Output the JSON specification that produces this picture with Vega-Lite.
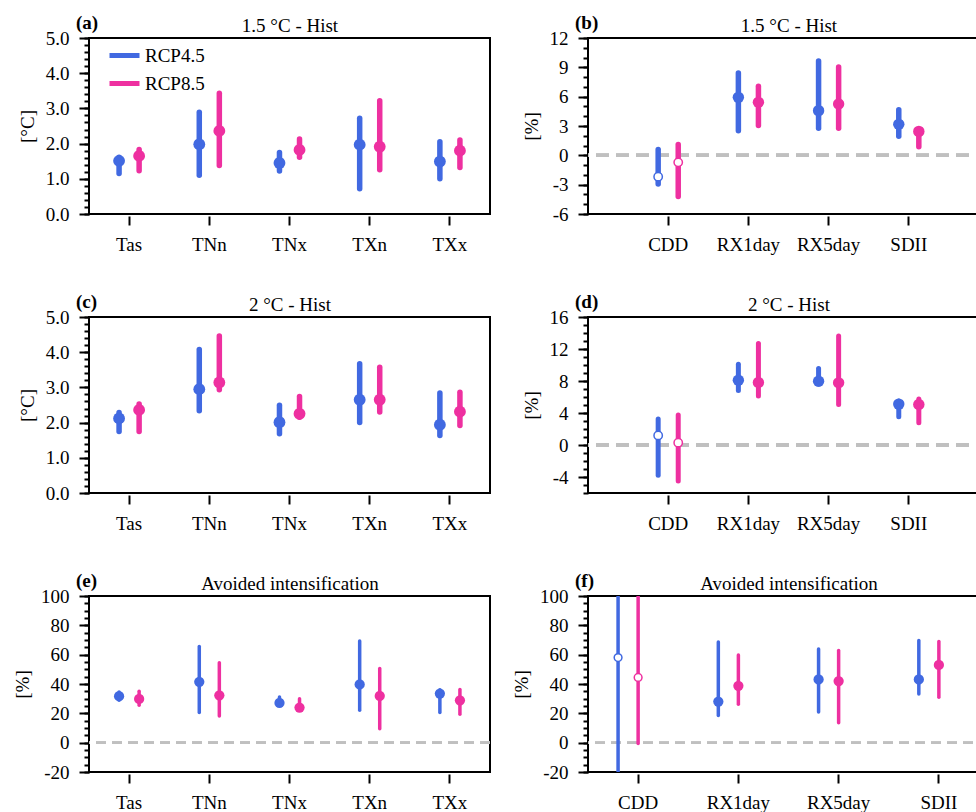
{
"$schema": "https://vega.github.io/schema/vega-lite/v6.json",
"padding": {"left": 12, "top": 13, "right": 0, "bottom": 0},
"config": {
 "font": "Liberation Serif",
 "view": {"stroke": "black", "strokeWidth": 2},
 "axis": {"labelFontSize": 19, "titleFontSize": 19, "titleFontWeight": "normal", "labelColor": "black", "titleColor": "black", "tickColor": "black", "tickWidth": 2, "grid": false, "domain": false, "labelFont": "Liberation Serif", "titleFont": "Liberation Serif"},
 "title": {"fontSize": 19, "font": "Liberation Serif", "color": "black"},
 "legend": {"labelFont": "Liberation Serif", "labelFontSize": 19}
},
"data": {"values": [
 {"p":"a","c":"Tas","s":"RCP4.5","lo":1.15,"hi":1.61,"m":1.51,"sig":true},
 {"p":"a","c":"Tas","s":"RCP8.5","lo":1.23,"hi":1.83,"m":1.65,"sig":true},
 {"p":"a","c":"TNn","s":"RCP4.5","lo":1.10,"hi":2.89,"m":1.98,"sig":true},
 {"p":"a","c":"TNn","s":"RCP8.5","lo":1.38,"hi":3.43,"m":2.36,"sig":true},
 {"p":"a","c":"TNx","s":"RCP4.5","lo":1.22,"hi":1.75,"m":1.45,"sig":true},
 {"p":"a","c":"TNx","s":"RCP8.5","lo":1.61,"hi":2.13,"m":1.82,"sig":true},
 {"p":"a","c":"TXn","s":"RCP4.5","lo":0.72,"hi":2.72,"m":1.97,"sig":true},
 {"p":"a","c":"TXn","s":"RCP8.5","lo":1.26,"hi":3.22,"m":1.91,"sig":true},
 {"p":"a","c":"TXx","s":"RCP4.5","lo":1.00,"hi":2.05,"m":1.49,"sig":true},
 {"p":"a","c":"TXx","s":"RCP8.5","lo":1.32,"hi":2.10,"m":1.80,"sig":true},
 {"p":"b","c":"CDD","s":"RCP4.5","lo":-2.93,"hi":0.6,"m":-2.18,"sig":false},
 {"p":"b","c":"CDD","s":"RCP8.5","lo":-4.2,"hi":1.1,"m":-0.72,"sig":false},
 {"p":"b","c":"RX1day","s":"RCP4.5","lo":2.52,"hi":8.42,"m":5.93,"sig":true},
 {"p":"b","c":"RX1day","s":"RCP8.5","lo":3.04,"hi":7.06,"m":5.42,"sig":true},
 {"p":"b","c":"RX5day","s":"RCP4.5","lo":2.76,"hi":9.65,"m":4.57,"sig":true},
 {"p":"b","c":"RX5day","s":"RCP8.5","lo":2.76,"hi":9.03,"m":5.25,"sig":true},
 {"p":"b","c":"SDII","s":"RCP4.5","lo":1.94,"hi":4.67,"m":3.17,"sig":true},
 {"p":"b","c":"SDII","s":"RCP8.5","lo":0.89,"hi":2.6,"m":2.45,"sig":true},
 {"p":"c","c":"Tas","s":"RCP4.5","lo":1.75,"hi":2.29,"m":2.12,"sig":true},
 {"p":"c","c":"Tas","s":"RCP8.5","lo":1.75,"hi":2.53,"m":2.36,"sig":true},
 {"p":"c","c":"TNn","s":"RCP4.5","lo":2.34,"hi":4.08,"m":2.95,"sig":true},
 {"p":"c","c":"TNn","s":"RCP8.5","lo":2.93,"hi":4.46,"m":3.14,"sig":true},
 {"p":"c","c":"TNx","s":"RCP4.5","lo":1.68,"hi":2.49,"m":2.01,"sig":true},
 {"p":"c","c":"TNx","s":"RCP8.5","lo":2.15,"hi":2.74,"m":2.25,"sig":true},
 {"p":"c","c":"TXn","s":"RCP4.5","lo":2.0,"hi":3.67,"m":2.65,"sig":true},
 {"p":"c","c":"TXn","s":"RCP8.5","lo":2.3,"hi":3.57,"m":2.65,"sig":true},
 {"p":"c","c":"TXx","s":"RCP4.5","lo":1.63,"hi":2.84,"m":1.94,"sig":true},
 {"p":"c","c":"TXx","s":"RCP8.5","lo":1.92,"hi":2.86,"m":2.31,"sig":true},
 {"p":"d","c":"CDD","s":"RCP4.5","lo":-3.78,"hi":3.24,"m":1.2,"sig":false},
 {"p":"d","c":"CDD","s":"RCP8.5","lo":-4.49,"hi":3.74,"m":0.29,"sig":false},
 {"p":"d","c":"RX1day","s":"RCP4.5","lo":6.82,"hi":10.1,"m":8.1,"sig":true},
 {"p":"d","c":"RX1day","s":"RCP8.5","lo":6.11,"hi":12.68,"m":7.81,"sig":true},
 {"p":"d","c":"RX5day","s":"RCP4.5","lo":7.6,"hi":9.56,"m":7.98,"sig":true},
 {"p":"d","c":"RX5day","s":"RCP8.5","lo":5.07,"hi":13.63,"m":7.77,"sig":true},
 {"p":"d","c":"SDII","s":"RCP4.5","lo":3.53,"hi":5.5,"m":5.11,"sig":true},
 {"p":"d","c":"SDII","s":"RCP8.5","lo":2.78,"hi":5.74,"m":5.07,"sig":true},
 {"p":"e","c":"Tas","s":"RCP4.5","lo":29,"hi":34.6,"m":31.7,"sig":true},
 {"p":"e","c":"Tas","s":"RCP8.5","lo":25.5,"hi":35,"m":29.8,"sig":true},
 {"p":"e","c":"TNn","s":"RCP4.5","lo":20.5,"hi":65.5,"m":41.5,"sig":true},
 {"p":"e","c":"TNn","s":"RCP8.5","lo":18.2,"hi":54.5,"m":32.3,"sig":true},
 {"p":"e","c":"TNx","s":"RCP4.5","lo":26,"hi":31.1,"m":27.1,"sig":true},
 {"p":"e","c":"TNx","s":"RCP8.5","lo":22.8,"hi":30,"m":23.9,"sig":true},
 {"p":"e","c":"TXn","s":"RCP4.5","lo":22.1,"hi":69.4,"m":39.7,"sig":true},
 {"p":"e","c":"TXn","s":"RCP8.5","lo":9.5,"hi":50.6,"m":31.9,"sig":true},
 {"p":"e","c":"TXx","s":"RCP4.5","lo":20.5,"hi":36,"m":33.5,"sig":true},
 {"p":"e","c":"TXx","s":"RCP8.5","lo":19.3,"hi":36.2,"m":28.9,"sig":true},
 {"p":"f","c":"CDD","s":"RCP4.5","lo":-60,"hi":180,"m":58,"sig":false},
 {"p":"f","c":"CDD","s":"RCP8.5","lo":-0.5,"hi":180,"m":44.5,"sig":false},
 {"p":"f","c":"RX1day","s":"RCP4.5","lo":18.6,"hi":68.6,"m":28,"sig":true},
 {"p":"f","c":"RX1day","s":"RCP8.5","lo":26.2,"hi":59.8,"m":38.8,"sig":true},
 {"p":"f","c":"RX5day","s":"RCP4.5","lo":20.9,"hi":63.9,"m":43.1,"sig":true},
 {"p":"f","c":"RX5day","s":"RCP8.5","lo":13.6,"hi":62.8,"m":42,"sig":true},
 {"p":"f","c":"SDII","s":"RCP4.5","lo":33.1,"hi":69.7,"m":43.1,"sig":true},
 {"p":"f","c":"SDII","s":"RCP8.5","lo":31,"hi":69,"m":53,"sig":true}
]},
"columns": 2,
"spacing": {"row": 37, "column": 19},
"resolve": {"scale": {"color": "independent"}, "legend": {"color": "independent"}},
"concat": [
 {
  "width": 401, "height": 176,
  "title": {"text": "(a)", "anchor": "start", "frame": "group", "dx": -13, "offset": -17, "fontWeight": "bold"},
  "transform": [{"filter": "datum.p == 'a'"}],
  "layer": [
   {"mark": {"type": "rule", "strokeWidth": 5.5, "strokeCap": "round", "clip": true},
    "encoding": {
     "x": {"field": "c", "type": "nominal", "scale": {"type": "band", "domain": ["Tas","TNn","TNx","TXn","TXx"], "paddingInner": 0, "paddingOuter": 0}, "axis": {"orient": "bottom", "title": null, "tickSize": 9, "offset": 2, "labelPadding": 10, "labelAngle": 0}},
     "xOffset": {"field": "s", "type": "nominal", "scale": {"domain": ["RCP4.5","RCP8.5"], "paddingInner": 0, "paddingOuter": 2.1}},
     "y": {"field": "lo", "type": "quantitative", "scale": {"domain": [0,5], "nice": false, "zero": false}, "axis": {"values": [0,1,2,3,4,5], "format": ".1f", "tickSize": 10, "labelPadding": 10, "title": "[°C]", "titlePadding": 8}},
     "y2": {"field": "hi"},
     "color": {"field": "s", "type": "nominal", "scale": {"domain": ["RCP4.5","RCP8.5"], "range": ["#4169E1","#EE30A0"]}, "legend": {"orient": "none", "legendX": 18, "legendY": 0, "title": null, "symbolType": "stroke", "symbolStrokeWidth": 5, "symbolSize": 900, "labelFont": "Liberation Serif", "labelFontSize": 19, "labelOffset": 3, "padding": 0, "rowPadding": 0}}
    }},
   {"transform": [{"filter": "datum.sig"}],
    "mark": {"type": "point", "filled": true, "size": 140, "opacity": 1},
    "encoding": {
     "x": {"field": "c", "type": "nominal", "axis": {"orient": "top", "title": "1.5 °C - Hist", "ticks": false, "labels": false, "titlePadding": 3}},
     "xOffset": {"field": "s", "type": "nominal"},
     "y": {"field": "m", "type": "quantitative", "axis": {"orient": "left", "values": [0,0.2,0.4,0.6,0.8,1,1.2,1.4,1.6,1.8,2,2.2,2.4,2.6,2.8,3,3.2,3.4,3.6,3.8,4,4.2,4.4,4.6,4.8,5], "labels": false, "tickSize": 5, "title": null}},
     "color": {"field": "s", "type": "nominal", "legend": null}
    }}
  ],
  "resolve": {"axis": {"x": "independent", "y": "independent"}}
 },
 {
  "width": 401, "height": 176,
  "title": {"text": "(b)", "anchor": "start", "frame": "group", "dx": -13, "offset": -17, "fontWeight": "bold"},
  "transform": [{"filter": "datum.p == 'b'"}],
  "layer": [
   {"mark": {"type": "rule", "color": "#c0c0c0", "strokeWidth": 3, "strokeDash": [13,7]},
    "encoding": {"y": {"datum": 0, "type": "quantitative", "axis": null}}},
   {"mark": {"type": "rule", "strokeWidth": 5.5, "strokeCap": "round", "clip": true},
    "encoding": {
     "x": {"field": "c", "type": "nominal", "scale": {"type": "band", "domain": ["CDD","RX1day","RX5day","SDII"], "paddingInner": 0, "paddingOuter": 0.5}, "axis": {"orient": "bottom", "title": null, "tickSize": 9, "offset": 2, "labelPadding": 10, "labelAngle": 0}},
     "xOffset": {"field": "s", "type": "nominal", "scale": {"domain": ["RCP4.5","RCP8.5"], "paddingInner": 0, "paddingOuter": 2.1}},
     "y": {"field": "lo", "type": "quantitative", "scale": {"domain": [-6,12], "nice": false, "zero": false}, "axis": {"values": [-6,-3,0,3,6,9,12], "labelExpr": "'' + datum.value", "tickSize": 10, "labelPadding": 10, "title": "[%]", "titlePadding": 8}},
     "y2": {"field": "hi"},
     "color": {"field": "s", "type": "nominal", "scale": {"domain": ["RCP4.5","RCP8.5"], "range": ["#4169E1","#EE30A0"]}, "legend": null}
    }},
   {"transform": [{"filter": "datum.sig"}],
    "mark": {"type": "point", "filled": true, "size": 130, "opacity": 1},
    "encoding": {
     "x": {"field": "c", "type": "nominal", "axis": {"orient": "top", "title": "1.5 °C - Hist", "ticks": false, "labels": false, "titlePadding": 3}},
     "xOffset": {"field": "s", "type": "nominal"},
     "y": {"field": "m", "type": "quantitative", "axis": {"orient": "left", "values": [-6,-5,-4,-3,-2,-1,0,1,2,3,4,5,6,7,8,9,10,11,12], "labels": false, "tickSize": 5, "title": null}},
     "color": {"field": "s", "type": "nominal", "legend": null}
    }},
   {"transform": [{"filter": "!datum.sig"}],
    "mark": {"type": "point", "filled": false, "fill": "white", "strokeWidth": 1.5, "size": 70, "opacity": 1},
    "encoding": {
     "x": {"field": "c", "type": "nominal", "axis": null},
     "xOffset": {"field": "s", "type": "nominal"},
     "y": {"field": "m", "type": "quantitative", "axis": null},
     "color": {"field": "s", "type": "nominal", "legend": null}
    }}
  ],
  "resolve": {"axis": {"x": "independent", "y": "independent"}}
 },
 {
  "width": 401, "height": 176,
  "title": {"text": "(c)", "anchor": "start", "frame": "group", "dx": -13, "offset": -17, "fontWeight": "bold"},
  "transform": [{"filter": "datum.p == 'c'"}],
  "layer": [
   {"mark": {"type": "rule", "strokeWidth": 5.5, "strokeCap": "round", "clip": true},
    "encoding": {
     "x": {"field": "c", "type": "nominal", "scale": {"type": "band", "domain": ["Tas","TNn","TNx","TXn","TXx"], "paddingInner": 0, "paddingOuter": 0}, "axis": {"orient": "bottom", "title": null, "tickSize": 9, "offset": 2, "labelPadding": 10, "labelAngle": 0}},
     "xOffset": {"field": "s", "type": "nominal", "scale": {"domain": ["RCP4.5","RCP8.5"], "paddingInner": 0, "paddingOuter": 2.1}},
     "y": {"field": "lo", "type": "quantitative", "scale": {"domain": [0,5], "nice": false, "zero": false}, "axis": {"values": [0,1,2,3,4,5], "format": ".1f", "tickSize": 10, "labelPadding": 10, "title": "[°C]", "titlePadding": 8}},
     "y2": {"field": "hi"},
     "color": {"field": "s", "type": "nominal", "scale": {"domain": ["RCP4.5","RCP8.5"], "range": ["#4169E1","#EE30A0"]}, "legend": null}
    }},
   {"transform": [{"filter": "datum.sig"}],
    "mark": {"type": "point", "filled": true, "size": 140, "opacity": 1},
    "encoding": {
     "x": {"field": "c", "type": "nominal", "axis": {"orient": "top", "title": "2 °C - Hist", "ticks": false, "labels": false, "titlePadding": 3}},
     "xOffset": {"field": "s", "type": "nominal"},
     "y": {"field": "m", "type": "quantitative", "axis": {"orient": "left", "values": [0,0.2,0.4,0.6,0.8,1,1.2,1.4,1.6,1.8,2,2.2,2.4,2.6,2.8,3,3.2,3.4,3.6,3.8,4,4.2,4.4,4.6,4.8,5], "labels": false, "tickSize": 5, "title": null}},
     "color": {"field": "s", "type": "nominal", "legend": null}
    }}
  ],
  "resolve": {"axis": {"x": "independent", "y": "independent"}}
 },
 {
  "width": 401, "height": 176,
  "title": {"text": "(d)", "anchor": "start", "frame": "group", "dx": -13, "offset": -17, "fontWeight": "bold"},
  "transform": [{"filter": "datum.p == 'd'"}],
  "layer": [
   {"mark": {"type": "rule", "color": "#c0c0c0", "strokeWidth": 3, "strokeDash": [13,7]},
    "encoding": {"y": {"datum": 0, "type": "quantitative", "axis": null}}},
   {"mark": {"type": "rule", "strokeWidth": 5, "strokeCap": "round", "clip": true},
    "encoding": {
     "x": {"field": "c", "type": "nominal", "scale": {"type": "band", "domain": ["CDD","RX1day","RX5day","SDII"], "paddingInner": 0, "paddingOuter": 0.5}, "axis": {"orient": "bottom", "title": null, "tickSize": 9, "offset": 2, "labelPadding": 10, "labelAngle": 0}},
     "xOffset": {"field": "s", "type": "nominal", "scale": {"domain": ["RCP4.5","RCP8.5"], "paddingInner": 0, "paddingOuter": 2.1}},
     "y": {"field": "lo", "type": "quantitative", "scale": {"domain": [-6,16], "nice": false, "zero": false}, "axis": {"values": [-4,0,4,8,12,16], "labelExpr": "'' + datum.value", "tickSize": 10, "labelPadding": 10, "title": "[%]", "titlePadding": 8}},
     "y2": {"field": "hi"},
     "color": {"field": "s", "type": "nominal", "scale": {"domain": ["RCP4.5","RCP8.5"], "range": ["#4169E1","#EE30A0"]}, "legend": null}
    }},
   {"transform": [{"filter": "datum.sig"}],
    "mark": {"type": "point", "filled": true, "size": 130, "opacity": 1},
    "encoding": {
     "x": {"field": "c", "type": "nominal", "axis": {"orient": "top", "title": "2 °C - Hist", "ticks": false, "labels": false, "titlePadding": 3}},
     "xOffset": {"field": "s", "type": "nominal"},
     "y": {"field": "m", "type": "quantitative", "axis": {"orient": "left", "values": [-6,-5,-4,-3,-2,-1,0,1,2,3,4,5,6,7,8,9,10,11,12,13,14,15,16], "labels": false, "tickSize": 5, "title": null}},
     "color": {"field": "s", "type": "nominal", "legend": null}
    }},
   {"transform": [{"filter": "!datum.sig"}],
    "mark": {"type": "point", "filled": false, "fill": "white", "strokeWidth": 1.5, "size": 70, "opacity": 1},
    "encoding": {
     "x": {"field": "c", "type": "nominal", "axis": null},
     "xOffset": {"field": "s", "type": "nominal"},
     "y": {"field": "m", "type": "quantitative", "axis": null},
     "color": {"field": "s", "type": "nominal", "legend": null}
    }}
  ],
  "resolve": {"axis": {"x": "independent", "y": "independent"}}
 },
 {
  "width": 401, "height": 176,
  "title": {"text": "(e)", "anchor": "start", "frame": "group", "dx": -13, "offset": -17, "fontWeight": "bold"},
  "transform": [{"filter": "datum.p == 'e'"}],
  "layer": [
   {"mark": {"type": "rule", "color": "#c0c0c0", "strokeWidth": 2, "strokeDash": [10,6]},
    "encoding": {"y": {"datum": 0, "type": "quantitative", "axis": null}}},
   {"mark": {"type": "rule", "strokeWidth": 3.5, "strokeCap": "round", "clip": true},
    "encoding": {
     "x": {"field": "c", "type": "nominal", "scale": {"type": "band", "domain": ["Tas","TNn","TNx","TXn","TXx"], "paddingInner": 0, "paddingOuter": 0}, "axis": {"orient": "bottom", "title": null, "tickSize": 9, "offset": 2, "labelPadding": 10, "labelAngle": 0}},
     "xOffset": {"field": "s", "type": "nominal", "scale": {"domain": ["RCP4.5","RCP8.5"], "paddingInner": 0, "paddingOuter": 2.1}},
     "y": {"field": "lo", "type": "quantitative", "scale": {"domain": [-20,100], "nice": false, "zero": false}, "axis": {"values": [-20,0,20,40,60,80,100], "labelExpr": "'' + datum.value", "tickSize": 10, "labelPadding": 10, "title": "[%]", "titlePadding": 8}},
     "y2": {"field": "hi"},
     "color": {"field": "s", "type": "nominal", "scale": {"domain": ["RCP4.5","RCP8.5"], "range": ["#4169E1","#EE30A0"]}, "legend": null}
    }},
   {"transform": [{"filter": "datum.sig"}],
    "mark": {"type": "point", "filled": true, "size": 105, "opacity": 1},
    "encoding": {
     "x": {"field": "c", "type": "nominal", "axis": {"orient": "top", "title": "Avoided intensification", "ticks": false, "labels": false, "titlePadding": 3}},
     "xOffset": {"field": "s", "type": "nominal"},
     "y": {"field": "m", "type": "quantitative", "axis": {"orient": "left", "values": [-20,-15,-10,-5,0,5,10,15,20,25,30,35,40,45,50,55,60,65,70,75,80,85,90,95,100], "labels": false, "tickSize": 5, "title": null}},
     "color": {"field": "s", "type": "nominal", "legend": null}
    }}
  ],
  "resolve": {"axis": {"x": "independent", "y": "independent"}}
 },
 {
  "width": 401, "height": 176,
  "title": {"text": "(f)", "anchor": "start", "frame": "group", "dx": -13, "offset": -17, "fontWeight": "bold"},
  "transform": [{"filter": "datum.p == 'f'"}],
  "layer": [
   {"mark": {"type": "rule", "color": "#c0c0c0", "strokeWidth": 2, "strokeDash": [10,6]},
    "encoding": {"y": {"datum": 0, "type": "quantitative", "axis": null}}},
   {"mark": {"type": "rule", "strokeWidth": 3.5, "strokeCap": "round", "clip": true},
    "encoding": {
     "x": {"field": "c", "type": "nominal", "scale": {"type": "band", "domain": ["CDD","RX1day","RX5day","SDII"], "paddingInner": 0, "paddingOuter": 0}, "axis": {"orient": "bottom", "title": null, "tickSize": 9, "offset": 2, "labelPadding": 10, "labelAngle": 0}},
     "xOffset": {"field": "s", "type": "nominal", "scale": {"domain": ["RCP4.5","RCP8.5"], "paddingInner": 0, "paddingOuter": 2.1}},
     "y": {"field": "lo", "type": "quantitative", "scale": {"domain": [-20,100], "nice": false, "zero": false}, "axis": {"values": [-20,0,20,40,60,80,100], "labelExpr": "'' + datum.value", "tickSize": 10, "labelPadding": 10, "title": "[%]", "titlePadding": 8}},
     "y2": {"field": "hi"},
     "color": {"field": "s", "type": "nominal", "scale": {"domain": ["RCP4.5","RCP8.5"], "range": ["#4169E1","#EE30A0"]}, "legend": null}
    }},
   {"transform": [{"filter": "datum.sig"}],
    "mark": {"type": "point", "filled": true, "size": 105, "opacity": 1},
    "encoding": {
     "x": {"field": "c", "type": "nominal", "axis": {"orient": "top", "title": "Avoided intensification", "ticks": false, "labels": false, "titlePadding": 3}},
     "xOffset": {"field": "s", "type": "nominal"},
     "y": {"field": "m", "type": "quantitative", "axis": {"orient": "left", "values": [-20,-15,-10,-5,0,5,10,15,20,25,30,35,40,45,50,55,60,65,70,75,80,85,90,95,100], "labels": false, "tickSize": 5, "title": null}},
     "color": {"field": "s", "type": "nominal", "legend": null}
    }},
   {"transform": [{"filter": "!datum.sig"}],
    "mark": {"type": "point", "filled": false, "fill": "white", "strokeWidth": 1.5, "size": 60, "opacity": 1},
    "encoding": {
     "x": {"field": "c", "type": "nominal", "axis": null},
     "xOffset": {"field": "s", "type": "nominal"},
     "y": {"field": "m", "type": "quantitative", "axis": null},
     "color": {"field": "s", "type": "nominal", "legend": null}
    }}
  ],
  "resolve": {"axis": {"x": "independent", "y": "independent"}}
 }
]
}
